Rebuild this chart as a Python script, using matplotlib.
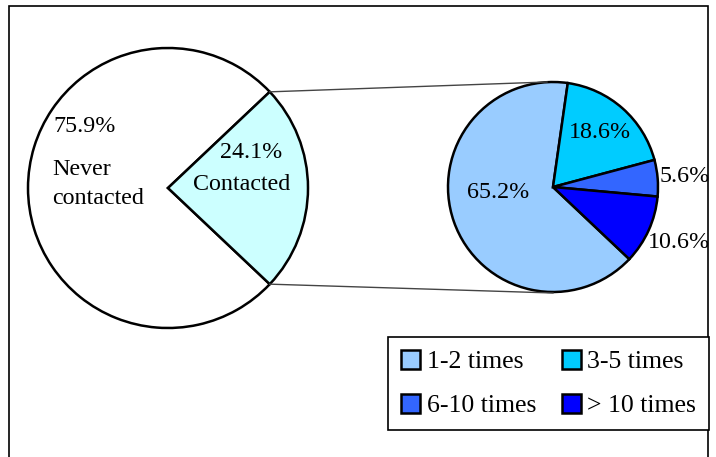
import numpy as np
import matplotlib.pyplot as plt
from matplotlib.patches import Rectangle

plt.rcParams['font.family'] = ['Liberation Serif', 'DejaVu Serif']

# 数据：左侧主饼图
main_labels = ['Never\ncontacted', 'Contacted']
main_values = [75.9, 24.1]
main_colors = ['#FFFFFF', '#CCFFFF']

# 数据：右侧子饼图（联系次数）
sub_labels = ['1-2 times', '3-5 times', '6-10 times', '> 10 times']
sub_values = [65.2, 18.6, 5.6, 10.6]
sub_colors = ['#99CCFF', '#00CCFF', '#3366FF', '#0000FF']

W, H = 716, 457
fig = plt.figure(figsize=(W / 100, H / 100), dpi=100)
ax = fig.add_axes([0, 0, 1, 1])

fs = 17.3

# 左饼图，"Contacted" 扇区居中于 0 度
c1, r1 = (168, 269), 140
half = main_values[1] / 100 * 180
ax.pie(main_values, colors=main_colors, center=c1, radius=r1, startangle=half,
       wedgeprops=dict(edgecolor='black', linewidth=1.8), frame=True)

# 右饼图
c2, r2 = (553, 270), 105
wedges, _ = ax.pie(sub_values, colors=sub_colors, center=c2, radius=r2,
                   startangle=-half, counterclock=False,
                   wedgeprops=dict(edgecolor='black', linewidth=1.8), frame=True)
ax.set_xlim(0, W)
ax.set_ylim(0, H)
ax.set_aspect('equal')
ax.axis('off')

# 连接线
a = np.deg2rad(half)
p_top = (c1[0] + r1 * np.cos(a), c1[1] + r1 * np.sin(a))
p_bot = (c1[0] + r1 * np.cos(a), c1[1] - r1 * np.sin(a))
ax.plot([p_top[0], c2[0] - 6], [p_top[1], c2[1] + r2], color='#444444', lw=1)
ax.plot([p_bot[0], c2[0]], [p_bot[1], c2[1] - r2 - 1], color='#444444', lw=1)

# 标签
ax.text(85, 330, f'{main_values[0]:.1f}%', ha='center', va='center', fontsize=fs)
ax.text(52, 273, main_labels[0], ha='left', va='center', fontsize=fs, linespacing=1.5)
ax.text(251, 305, f'{main_values[1]:.1f}%', ha='center', va='center', fontsize=fs)
ax.text(242, 272, main_labels[1], ha='center', va='center', fontsize=fs)

sub_pos = [(498, 264), (600, 324), (685, 280), (679, 215)]
for v, (x, y) in zip(sub_values, sub_pos):
    ax.text(x, y, f'{v:.1f}%', ha='center', va='center', fontsize=fs)

# 外框
ax.add_patch(Rectangle((9, -10), 699, 461, fill=False, edgecolor='black', lw=1.2, clip_on=False))

# 图例（按行排列）
order = [0, 2, 1, 3]
leg = ax.legend([wedges[i] for i in order], [sub_labels[i] for i in order],
                ncol=2, loc='upper left',
                bbox_to_anchor=(388, 120), bbox_transform=ax.transData,
                fontsize=18.5, frameon=True, fancybox=False, framealpha=1,
                handlelength=0.75, handleheight=0.75, handletextpad=0.25,
                columnspacing=1.0, labelspacing=0.8, borderpad=0.5,
                borderaxespad=0)
leg.get_frame().set_edgecolor('black')
leg.get_frame().set_linewidth(1.2)

fig.savefig('out.png', dpi=100)
